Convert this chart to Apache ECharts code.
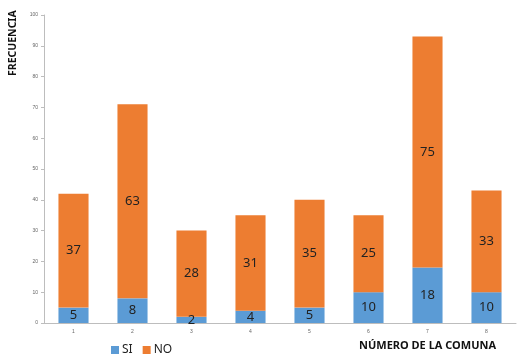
<!DOCTYPE html>
<html><head><meta charset="utf-8">
<script src="https://cdn.jsdelivr.net/npm/echarts@6/dist/echarts.min.js"></script>
<style>html,body{margin:0;padding:0;background:#fff}#c{width:525px;height:357px}</style>
</head><body><div id="c"></div>
<script>
const categories = ['1','2','3','4','5','6','7','8'];
const si = [5, 8, 2, 4, 5, 10, 18, 10];
const no = [37, 63, 28, 31, 35, 25, 75, 33];
const yTicks = [0,10,20,30,40,50,60,70,80,90,100];

const chart = echarts.init(document.getElementById('c'));
const lbl = {show:true, position:'inside', color:'#222', fontSize:13, fontFamily:'Noto Sans'};
chart.setOption({
  animation:false,
  grid:{left:44, right:9, top:15, bottom:34},
  legend:{data:['SI','NO'], left:106, top:339, itemWidth:8, itemHeight:8, itemGap:10,
    icon:'rect', textStyle:{fontSize:12, color:'#222', fontFamily:'Noto Sans', padding:[0,0,0,-2]}},
  xAxis:{type:'category', data:categories,
    axisLine:{lineStyle:{color:'#bdbdbd'}}, axisTick:{show:false},
    axisLabel:{fontSize:5, color:'#666', margin:6}},
  yAxis:{type:'value', min:0, max:100, interval:10,
    axisLine:{show:true, lineStyle:{color:'#bdbdbd'}},
    axisTick:{show:true, length:3, lineStyle:{color:'#bdbdbd'}},
    splitLine:{show:false},
    axisLabel:{fontSize:5, color:'#666', margin:6}},
  graphic:[
    {type:'text', rotation:Math.PI/2, x:8, y:76,
     style:{text:'FRECUENCIA', fontSize:10.5, fontWeight:'bold', fill:'#111', fontFamily:'Noto Sans'}},
    {type:'text', left:359, top:340,
     style:{text:'NÚMERO DE LA COMUNA', fontSize:11, fontWeight:'bold', fill:'#111', fontFamily:'Noto Sans'}}
  ],
  series:[
    {name:'SI', type:'bar', stack:'t', data:si, barWidth:'51%', itemStyle:{color:'#5B9BD5'}, label:lbl},
    {name:'NO', type:'bar', stack:'t', data:no, barWidth:'51%', itemStyle:{color:'#ED7D31'}, label:lbl}
  ]
});
</script></body></html>
